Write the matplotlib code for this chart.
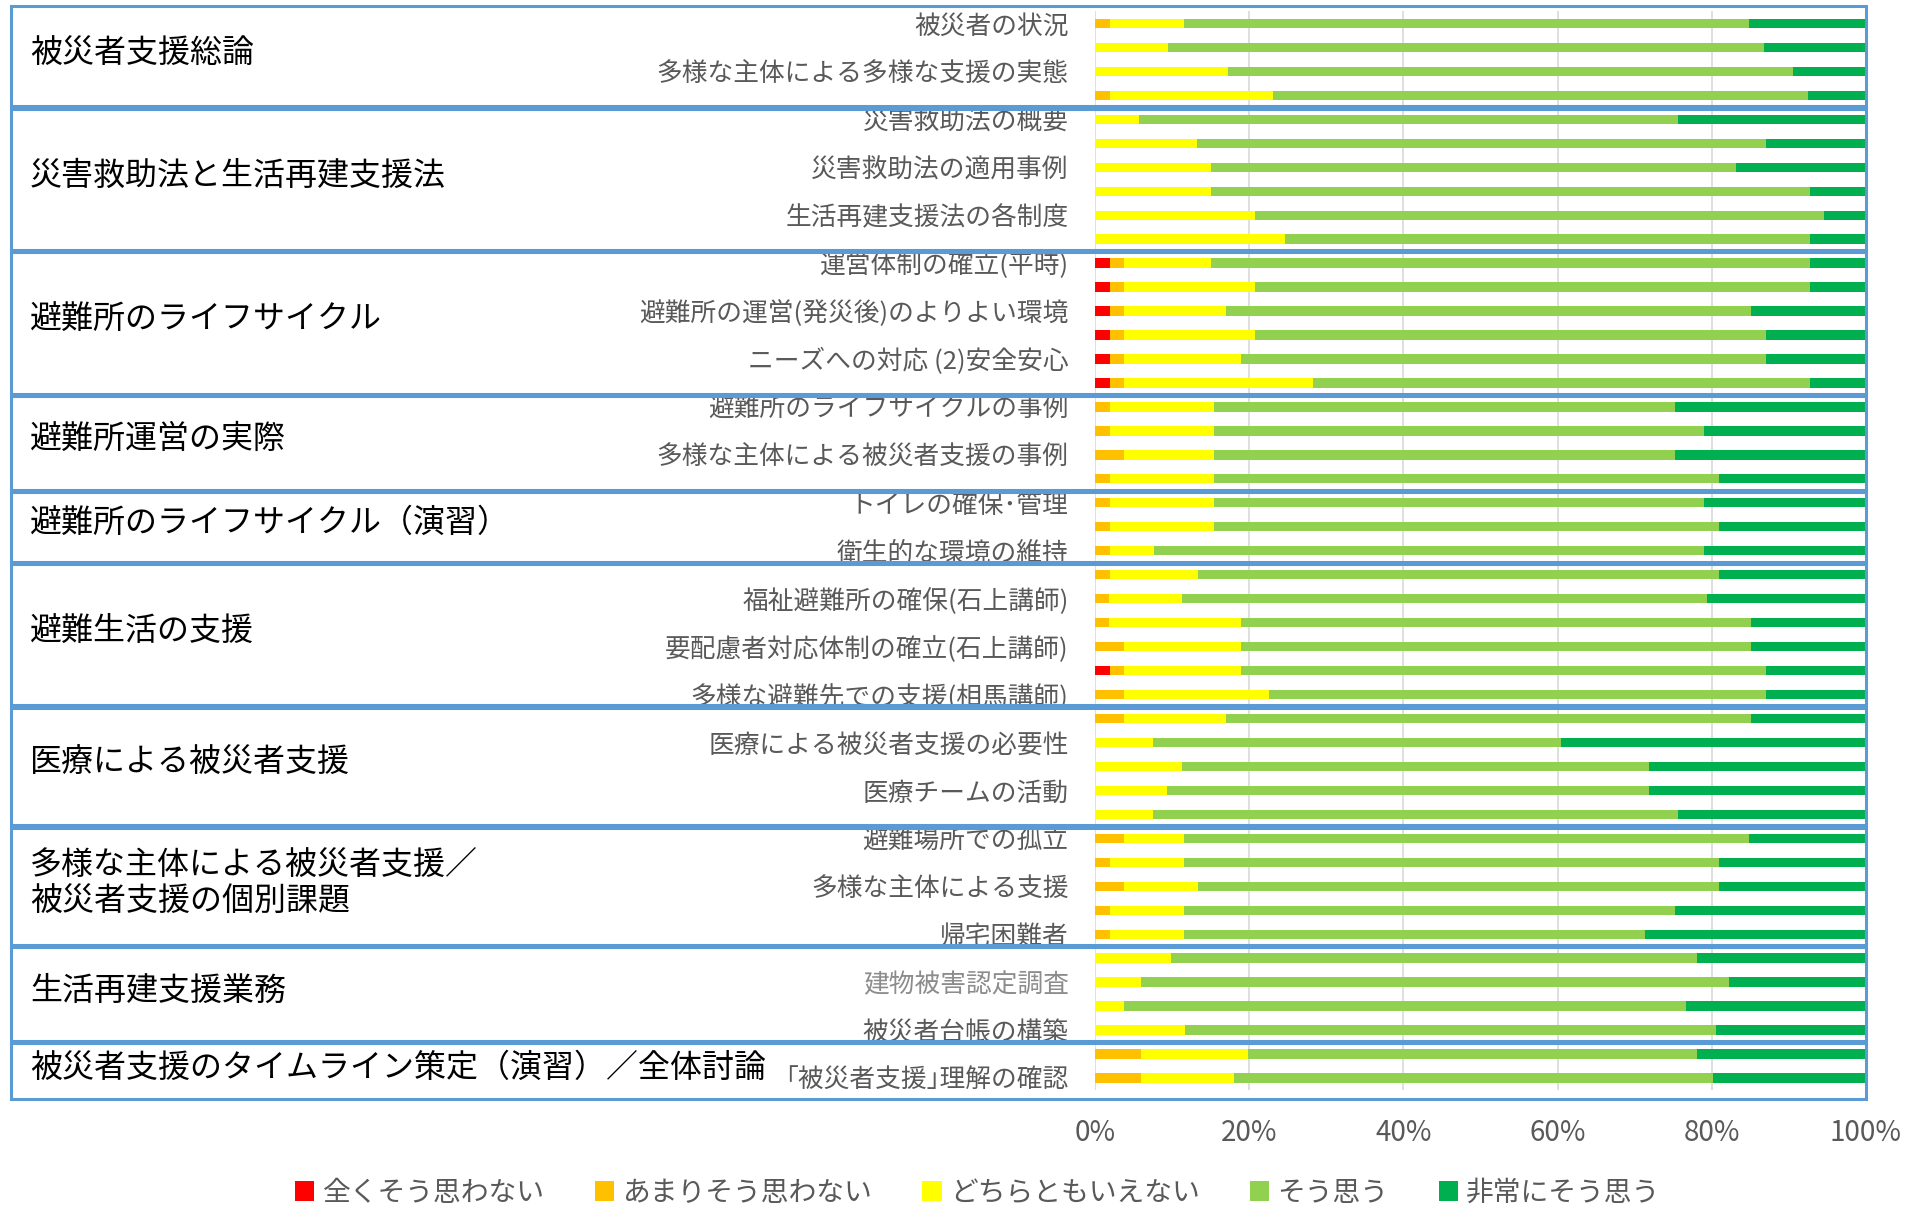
import matplotlib
matplotlib.use('Agg')
import matplotlib.pyplot as plt
import matplotlib.transforms as mtransforms
from matplotlib.patches import Rectangle
import numpy as np

plt.rcParams['font.family'] = ['Noto Sans CJK JP', 'DejaVu Sans']

# 講義項目（上から順、ラベルは2本に1本）
topics = ['被災者の状況', '', '多様な主体による多様な支援の実態', '',
          '災害救助法の概要', '', '災害救助法の適用事例', '', '生活再建支援法の各制度', '',
          '運営体制の確立(平時)', '', '避難所の運営(発災後)のよりよい環境', '', 'ニーズへの対応 (2)安全安心', '',
          '避難所のライフサイクルの事例', '', '多様な主体による被災者支援の事例', '',
          'トイレの確保･管理', '', '衛生的な環境の維持', '',
          '福祉避難所の確保(石上講師)', '', '要配慮者対応体制の確立(石上講師)', '', '多様な避難先での支援(相馬講師)', '',
          '医療による被災者支援の必要性', '', '医療チームの活動', '',
          '避難場所での孤立', '', '多様な主体による支援', '', '帰宅困難者', '',
          '建物被害認定調査', '', '被災者台帳の構築', '',
          '｢被災者支援｣理解の確認']

groups = ['被災者支援総論', '災害救助法と生活再建支援法', '避難所のライフサイクル', '避難所運営の実際',
          '避難所のライフサイクル（演習）', '避難生活の支援', '医療による被災者支援',
          '多様な主体による被災者支援／\n被災者支援の個別課題', '生活再建支援業務',
          '被災者支援のタイムライン策定（演習）／全体討論']
group_sizes = [4, 6, 6, 4, 3, 6, 5, 5, 4, 2]

series = ['全くそう思わない', 'あまりそう思わない', 'どちらともいえない', 'そう思う', '非常にそう思う']
colors = ['#FF0000', '#FFC000', '#FFFF00', '#92D050', '#00B050']

# 割合(%)
red = [0, 0, 0, 0,
       0, 0, 0, 0, 0, 0,
       1.9, 1.9, 1.9, 1.9, 1.9, 1.9,
       0, 0, 0, 0,
       0, 0, 0,
       0, 0, 0, 0, 1.9, 0,
       0, 0, 0, 0, 0,
       0, 0, 0, 0, 0,
       0, 0, 0, 0,
       0, 0]
orange = [1.9, 0, 0, 1.9,
          0, 0, 0, 0, 0, 0,
          1.8, 1.8, 1.8, 1.8, 1.8, 1.8,
          1.9, 1.9, 3.8, 1.9,
          1.9, 1.9, 1.9,
          1.9, 1.8, 1.8, 3.7, 1.8, 3.7,
          3.7, 0, 0, 0, 0,
          3.8, 1.9, 3.8, 1.9, 1.9,
          0, 0, 0, 0,
          6.0, 6.0]
yellow = [9.6, 9.5, 17.3, 21.2,
          5.7, 13.2, 15.1, 15.1, 20.8, 24.6,
          11.4, 17.1, 13.3, 17.1, 15.2, 24.6,
          13.5, 13.5, 11.6, 13.5,
          13.5, 13.5, 5.8,
          11.5, 9.5, 17.1, 15.2, 15.2, 18.9,
          13.3, 7.5, 11.3, 9.4, 7.5,
          7.7, 9.6, 9.6, 9.6, 9.6,
          9.9, 6.0, 3.8, 11.7,
          13.9, 12.0]
light_green = [73.3, 77.3, 73.2, 69.4,
               69.9, 73.8, 68.1, 77.6, 73.8, 68.1,
               77.6, 71.9, 68.1, 66.2, 68.1, 64.4,
               59.8, 63.6, 59.8, 65.5,
               63.6, 65.5, 71.3,
               67.5, 68.1, 66.2, 66.2, 68.1, 64.4,
               68.1, 53.0, 60.6, 62.5, 68.1,
               73.3, 69.4, 67.5, 63.7, 59.8,
               68.2, 76.2, 72.9, 68.9,
               58.2, 62.2]
dark_green = [15.2, 13.2, 9.5, 7.5,
              24.4, 13.0, 16.8, 7.3, 5.4, 7.3,
              7.3, 7.3, 14.9, 13.0, 13.0, 7.3,
              24.8, 21.0, 24.8, 19.1,
              21.0, 19.1, 21.0,
              19.1, 20.6, 14.9, 14.9, 13.0, 13.0,
              14.9, 39.5, 28.1, 28.1, 24.4,
              15.2, 19.1, 19.1, 24.8, 28.7,
              21.9, 17.8, 23.3, 19.4,
              21.9, 19.8]

data = np.array([red, orange, yellow, light_green, dark_green])
data = data / data.sum(axis=0) * 100
n = data.shape[1]
y = np.arange(n)

fig = plt.figure(figsize=(19.21, 12.06), dpi=100)
ax = fig.add_axes([1095 / 1921, 0.0962, 771 / 1921, 0.8943])

left = np.zeros(n)
for vals, name, c in zip(data, series, colors):
    ax.barh(y, vals, left=left, height=0.39, color=c, label=name, zorder=3)
    left += vals

ax.set_xlim(0, 100)
ax.set_ylim(n - 0.5, -0.5)
ax.set_xticks(np.arange(0, 101, 20))
ax.set_xticklabels([f'{v}%' for v in range(0, 101, 20)])
ax.grid(axis='x', color='#d9d9d9', linewidth=1.2, zorder=0)
for s in ax.spines.values():
    s.set_visible(False)
ax.tick_params(axis='x', length=0, pad=20, labelsize=20, labelcolor='#595959')

ax.set_yticks(y)
ax.set_yticklabels(topics)
ax.tick_params(axis='y', length=0, pad=19, labelsize=18.5, labelcolor='#595959')
ax.get_yticklabels()[40].set_color('#8c8c8c')

# グループ枠とグループ名
trans = mtransforms.blended_transform_factory(fig.transFigure, ax.transData)
x0 = 11 / 1921
x1 = 1866 / 1921
start = 0
for i, (name, size) in enumerate(zip(groups, group_sizes)):
    top = start - 0.5 + 0.05
    bottom = start + size - 0.5 - 0.05
    if i == 0:
        top = -0.73
    if i == len(groups) - 1:
        bottom = n - 0.13
    rect = Rectangle((x0, top), x1 - x0, bottom - top, transform=trans,
                     fill=False, edgecolor='#5B9BD5', linewidth=2.2,
                     clip_on=False, zorder=5)
    fig.add_artist(rect)
    fig.text(30 / 1921, (top + bottom) / 2 - 0.15, name, transform=trans,
             ha='left', va='center', fontsize=23, color='#000000',
             linespacing=1.15)
    start += size

fig.legend(loc='center', bbox_to_anchor=(0.509, 0.011), ncol=5,
           frameon=False, fontsize=20, labelcolor='#595959',
           handlelength=0.7, handleheight=0.7, handletextpad=0.3,
           columnspacing=1.8, borderpad=0)

fig.savefig('out.png', dpi=100)
